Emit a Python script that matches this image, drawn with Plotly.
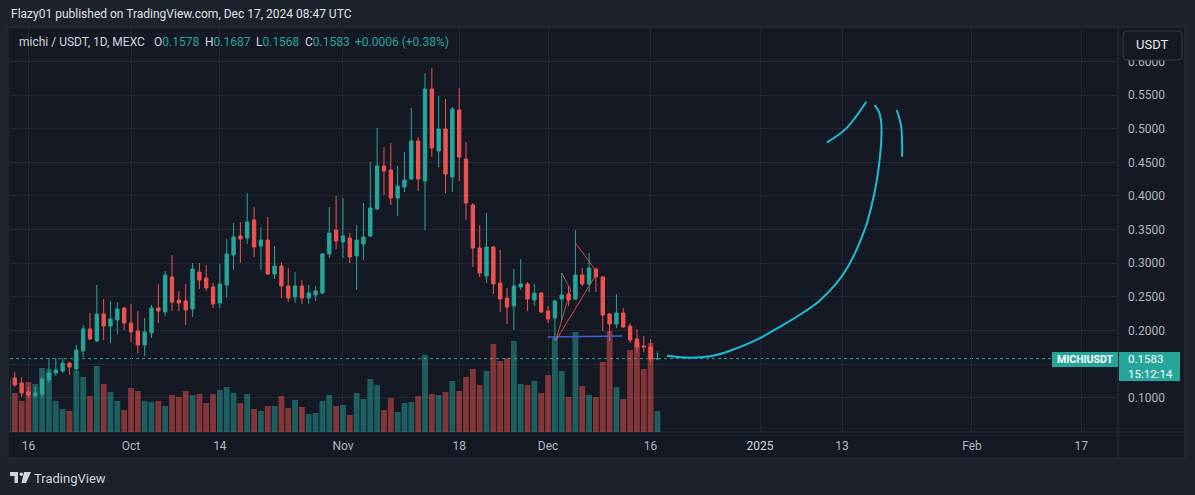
import plotly.graph_objects as go
import pandas as pd

# ---------------- data ----------------
start_date = "2024-09-13"
end_date = "2024-12-17"

open_ = [0.1072, 0.1295, 0.1221, 0.1087, 0.1028, 0.1057, 0.1265, 0.1369, 0.1399, 0.1518,
         0.1429, 0.1696, 0.2023, 0.1845, 0.2246, 0.2068, 0.2157, 0.2335, 0.2112, 0.1994,
         0.1786, 0.1964, 0.2335, 0.2276, 0.2796, 0.2454, 0.2439, 0.2320, 0.2870, 0.2781,
         0.2647, 0.2409, 0.2677, 0.3122, 0.3405, 0.3375, 0.3643, 0.3256, 0.3345, 0.2840,
         0.2959, 0.2662, 0.2499, 0.2662, 0.2484, 0.2528, 0.2558, 0.3138, 0.3494, 0.3316,
         0.3375, 0.3108, 0.3286, 0.3405, 0.3806, 0.4445, 0.4386, 0.3970, 0.4133, 0.4252,
         0.4817, 0.4222, 0.5589, 0.4668, 0.4995, 0.4282, 0.5277, 0.4549, 0.3866, 0.3227,
         0.2811, 0.3241, 0.2707, 0.2484, 0.2365, 0.2647, 0.2692, 0.2454, 0.2558, 0.2291,
         0.2186, 0.2469, 0.2543, 0.2469, 0.2825, 0.2692, 0.2915, 0.2796, 0.2246, 0.2097,
         0.2261, 0.2068, 0.1875, 0.1771, 0.1756, 0.1578]
high = [0.1340, 0.1384, 0.1310, 0.1162, 0.1162, 0.1310, 0.1592, 0.1592, 0.1592, 0.1533,
        0.1786, 0.2082, 0.2261, 0.2677, 0.2469, 0.2439, 0.2424, 0.2350, 0.2394, 0.2291,
        0.2186, 0.2380, 0.2692, 0.2885, 0.3122, 0.2588, 0.2692, 0.3004, 0.3004, 0.2974,
        0.2707, 0.2989, 0.3360, 0.3598, 0.3613, 0.4044, 0.3836, 0.3538, 0.3687, 0.3256,
        0.3018, 0.2929, 0.2870, 0.2751, 0.2677, 0.2662, 0.3152, 0.3836, 0.3999, 0.3970,
        0.3450, 0.3568, 0.3895, 0.4505, 0.5010, 0.4727, 0.4787, 0.4445, 0.4653, 0.5307,
        0.4876, 0.5827, 0.5901, 0.5485, 0.5441, 0.5322, 0.5604, 0.4801, 0.3895, 0.3568,
        0.3747, 0.3256, 0.3197, 0.2632, 0.2915, 0.3063, 0.2722, 0.2692, 0.2573, 0.2365,
        0.2454, 0.2855, 0.2662, 0.3494, 0.2929, 0.3152, 0.2929, 0.2811, 0.2261, 0.2543,
        0.2335, 0.2112, 0.2023, 0.1919, 0.1875, 0.1687]
low = [0.1042, 0.1162, 0.1013, 0.0998, 0.1013, 0.1013, 0.1221, 0.1325, 0.1369, 0.1340,
       0.1384, 0.1607, 0.1860, 0.1830, 0.1860, 0.1815, 0.1949, 0.2008, 0.1830, 0.1666,
       0.1622, 0.1889, 0.2112, 0.2216, 0.2291, 0.2291, 0.2082, 0.2201, 0.2617, 0.2588,
       0.2335, 0.2335, 0.2484, 0.2900, 0.3004, 0.3286, 0.3093, 0.2900, 0.2826, 0.2766,
       0.2484, 0.2424, 0.2409, 0.2394, 0.2394, 0.2439, 0.2543, 0.3078, 0.3212, 0.3078,
       0.3004, 0.2603, 0.3048, 0.3390, 0.3791, 0.4014, 0.3866, 0.3702, 0.4059, 0.4237,
       0.4074, 0.3494, 0.4579, 0.4430, 0.4044, 0.4059, 0.4222, 0.3642, 0.2945, 0.2796,
       0.2707, 0.2543, 0.2276, 0.2097, 0.2008, 0.2603, 0.2291, 0.2365, 0.2261, 0.2112,
       0.1860, 0.2157, 0.2365, 0.2454, 0.2662, 0.2573, 0.2573, 0.1994, 0.1845, 0.2038,
       0.2038, 0.1815, 0.1667, 0.1681, 0.1533, 0.1568]
close = [0.1295, 0.1192, 0.1072, 0.1043, 0.1072, 0.1280, 0.1369, 0.1414, 0.1518, 0.1459,
         0.1711, 0.2023, 0.1874, 0.2246, 0.2068, 0.2172, 0.2320, 0.2112, 0.1979, 0.1786,
         0.1979, 0.2335, 0.2291, 0.2825, 0.2424, 0.2409, 0.2305, 0.2915, 0.2751, 0.2632,
         0.2394, 0.2692, 0.3138, 0.3390, 0.3360, 0.3613, 0.3241, 0.3345, 0.2840, 0.2959,
         0.2662, 0.2484, 0.2662, 0.2484, 0.2558, 0.2588, 0.3138, 0.3450, 0.3331, 0.3405,
         0.3093, 0.3345, 0.3390, 0.3821, 0.4445, 0.4371, 0.3970, 0.4148, 0.4237, 0.4817,
         0.4252, 0.5589, 0.4713, 0.4995, 0.4326, 0.5292, 0.4579, 0.3895, 0.3227, 0.2855,
         0.3241, 0.2692, 0.2469, 0.2350, 0.2662, 0.2692, 0.2469, 0.2558, 0.2276, 0.2172,
         0.2439, 0.2528, 0.2454, 0.2825, 0.2692, 0.2929, 0.2796, 0.2231, 0.2097, 0.2261,
         0.2053, 0.1860, 0.1756, 0.1756, 0.1577, 0.1583]
volume_m = [5.3, 3.9, 3.1, 5.0, 4.8, 6.4, 6.3, 3.1, 2.3, 2.1,
            6.1, 5.5, 3.6, 6.6, 4.8, 4.0, 3.1, 2.2, 4.4, 4.1,
            3.1, 3.0, 3.1, 2.6, 3.7, 3.5, 4.1, 3.7, 3.8, 2.9,
            3.8, 4.2, 4.5, 3.9, 2.9, 3.8, 2.3, 2.1, 2.6, 2.6,
            3.6, 2.4, 3.2, 2.5, 1.8, 1.9, 3.1, 3.7, 2.6, 2.7,
            1.7, 3.9, 3.3, 5.3, 4.7, 2.2, 3.4, 2.0, 2.9, 3.0,
            3.6, 7.7, 3.8, 3.7, 4.0, 5.1, 4.1, 5.5, 6.3, 4.7,
            6.1, 8.8, 7.1, 7.4, 9.1, 4.8, 4.7, 5.1, 3.9, 5.7,
            9.5, 6.1, 3.5, 10.0, 4.6, 3.7, 3.5, 7.0, 10.1, 4.5,
            3.3, 8.2, 9.0, 6.3, 8.9, 2.1]

tick_dates = ["2024-09-16", "2024-10-01", "2024-10-14", "2024-11-01", "2024-11-18",
              "2024-12-01", "2024-12-16", "2025-01-01", "2025-01-13", "2025-02-01",
              "2025-02-17"]
tick_text = ["16", "Oct", "14", "Nov", "18", "Dec", "16",
             "<span style='color:#d1d4dc'>2025</span>", "13", "Feb", "17"]
price_ticks = [0.10, 0.15, 0.20, 0.25, 0.30, 0.35, 0.40, 0.45, 0.50, 0.55, 0.60]
# the 0.1500 label sits under the last-price box in the original, so it is left blank
price_tick_text = ["0.1000", "", "0.2000", "0.2500", "0.3000", "0.3500", "0.4000",
                   "0.4500", "0.5000", "0.5500", "0.6000"]

# hand-drawn annotations (day offset from drawing base, price)
draw_base = "2024-12-16"
curve_days = [2.38, 5.70, 9.61, 12.53, 15.94, 19.35, 22.28, 24.72, 27.16, 28.86,
              30.32, 31.55, 32.28, 33.01, 33.49, 33.74, 33.74, 33.39, 32.76]
curve_price = [0.1626, 0.1597, 0.1637, 0.1736, 0.1885, 0.2082, 0.2265, 0.2444, 0.2702, 0.2949,
               0.3246, 0.3568, 0.3840, 0.4188, 0.4534, 0.4831, 0.5079, 0.5252, 0.5351]
stroke2_days = [25.79, 28.62, 31.55]
stroke2_price = [0.4797, 0.5005, 0.5400]
stroke3_days = [36.00, 36.65, 36.79]
stroke3_price = [0.5277, 0.5029, 0.4583]
fan_segments = [  # (d0, p0, d1, p1)
    (-13.9, 0.1845, -11.7, 0.2603),
    (-13.9, 0.1845, -8.19, 0.2796),
    (-13.0, 0.2855, -11.7, 0.2603),
    (-10.97, 0.3301, -8.19, 0.2915),
]
support_days = [-15.07, -4.10]
support_price = [0.1904, 0.1919]

symbol_text = "michi / USDT, 1D, MEXC"
last_label = "MICHIUSDT"
countdown = "15:12:14"
publish_text = "Flazy01 published on TradingView.com, Dec 17, 2024 08:47 UTC"

# ---------------- styling ----------------
UP = "#26a69a"
DOWN = "#ef5350"
UP_VOL = "rgba(38,166,154,0.5)"
DOWN_VOL = "rgba(239,83,80,0.5)"
CHART_BG = "#151924"
FRAME_BG = "#1e222c"
GRID = "#232733"
SEP = "#2a2e39"
TEXT = "#d1d4dc"
AXIS_TEXT = "#b2b5be"
FONT = "Roboto"

W, H = 1195, 495
ML, MR, MT, MB = 10, 77, 28, 63
PW = W - ML - MR
PH = H - MT - MB


def px(x):
    return (x - ML) / PW


def py(y):
    return (H - MB - y) / PH


dates = pd.date_range(start_date, end_date, freq="D")
base = pd.Timestamp(draw_base)


def to_dates(days):
    return [base + pd.Timedelta(days=d) for d in days]


vol_colors = [UP_VOL if c >= o else DOWN_VOL for o, c in zip(open_, close)]

fig = go.Figure()
fig.add_trace(go.Bar(x=dates, y=volume_m, marker=dict(color=vol_colors, line=dict(width=0)),
                     yaxis="y", showlegend=False, hoverinfo="skip"))
fig.add_trace(go.Candlestick(
    x=dates, open=open_, high=high, low=low, close=close, yaxis="y2",
    increasing=dict(line=dict(color=UP, width=1), fillcolor=UP),
    decreasing=dict(line=dict(color=DOWN, width=1), fillcolor=DOWN),
    whiskerwidth=0, showlegend=False))

for dd, pp in [(curve_days, curve_price), (stroke2_days, stroke2_price), (stroke3_days, stroke3_price)]:
    fig.add_trace(go.Scatter(x=to_dates(dd), y=pp, yaxis="y2", mode="lines",
                             line=dict(color="#1fbcd6", width=2, shape="spline", smoothing=1.0),
                             showlegend=False, hoverinfo="skip"))

shapes = []
# panel background and separators
shapes.append(dict(type="rect", xref="paper", yref="paper", x0=px(8), x1=px(1185), y0=py(458), y1=py(27),
                   fillcolor=CHART_BG, line=dict(color=SEP, width=1), layer="below"))
shapes.append(dict(type="line", xref="paper", yref="paper", x0=px(1118), x1=px(1118), y0=py(458), y1=py(27),
                   line=dict(color=SEP, width=1), layer="below"))
shapes.append(dict(type="line", xref="paper", yref="paper", x0=px(8), x1=px(1185), y0=py(432), y1=py(432),
                   line=dict(color=SEP, width=1), layer="below"))
# last price dotted line
shapes.append(dict(type="line", xref="paper", yref="y2", x0=0, x1=1, y0=close[-1], y1=close[-1],
                   line=dict(color=UP, width=1, dash="dot"), layer="below"))
# support line
sd = to_dates(support_days)
shapes.append(dict(type="line", xref="x", yref="y2", x0=sd[0], x1=sd[1], y0=support_price[0], y1=support_price[1],
                   line=dict(color="#3d5fd6", width=1.5)))
# fan lines
for d0, p0, d1, p1 in fan_segments:
    a, b = to_dates([d0, d1])
    shapes.append(dict(type="line", xref="x", yref="y2", x0=a, x1=b, y0=p0, y1=p1,
                       line=dict(color="rgba(229,83,75,0.85)", width=1)))
# last price labels
shapes.append(dict(type="rect", xref="paper", yref="paper", x0=px(1052), x1=px(1118), y0=py(367), y1=py(352),
                   fillcolor=UP, line=dict(width=0), layer="above"))
shapes.append(dict(type="rect", xref="paper", yref="paper", x0=px(1119), x1=px(1180), y0=py(381), y1=py(352),
                   fillcolor=UP, line=dict(width=0), layer="above"))
# USDT button (rounded)
bx0, bx1, by0, by1, r = 1123, 1182, 31, 60, 4
rx, ry = r / PW, r / PH
X0, X1, Y0, Y1 = px(bx0), px(bx1), py(by1), py(by0)
path = (f"M {X0+rx},{Y0} L {X1-rx},{Y0} Q {X1},{Y0} {X1},{Y0+ry} L {X1},{Y1-ry} Q {X1},{Y1} {X1-rx},{Y1} "
        f"L {X0+rx},{Y1} Q {X0},{Y1} {X0},{Y1-ry} L {X0},{Y0+ry} Q {X0},{Y0} {X0+rx},{Y0} Z")
shapes.append(dict(type="path", xref="paper", yref="paper", path=path, fillcolor=CHART_BG,
                   line=dict(color="#363a45", width=1), layer="above"))
# TradingView logo
shapes.append(dict(type="rect", xref="paper", yref="paper", x0=px(10), x1=px(18), y0=py(476), y1=py(472),
                   fillcolor=TEXT, line=dict(width=0), layer="above"))
shapes.append(dict(type="rect", xref="paper", yref="paper", x0=px(14.5), x1=px(18), y0=py(483), y1=py(472),
                   fillcolor=TEXT, line=dict(width=0), layer="above"))
shapes.append(dict(type="circle", xref="paper", yref="paper", x0=px(19.5), x1=px(23), y0=py(476), y1=py(472.5),
                   fillcolor=TEXT, line=dict(width=0), layer="above"))
lp = (f"M {px(24)},{py(472)} L {px(31)},{py(472)} L {px(26)},{py(483)} L {px(21.5)},{py(483)} Z")
shapes.append(dict(type="path", xref="paper", yref="paper", path=lp, fillcolor=TEXT,
                   line=dict(width=0), layer="above"))

annotations = []


def ann(x, y, text, size=12, color=TEXT, xanchor="left", **kw):
    annotations.append(dict(xref="paper", yref="paper", x=px(x), y=py(y), text=text, showarrow=False,
                            xanchor=xanchor, yanchor="middle", borderpad=0,
                            font=dict(family=FONT, size=size, color=color), **kw))


ann(10, 14, publish_text, size=12, color="#dfe1e8")
ann(18, 42, symbol_text, size=12, color=TEXT)
o, h, l, c = open_[-1], high[-1], low[-1], close[-1]
chg = c - close[-2]
pct = chg / close[-2] * 100
val = "#26a69a"
items = [(153, "O", o), (204, "H", h), (255, "L", l), (304, "C", c)]
for x, k, v in items:
    ann(x, 42, f"{k}<span style='color:{val}'>{v:.4f}</span>", size=12, color=TEXT)
ann(354, 42, f"{chg:+.4f} ({pct:+.2f}%)", size=12, color=val)
ann(1085, 359.5, f"<b>{last_label}</b>", size=10.5, color="#ffffff", xanchor="center")
ann(1127, 358.5, f"{c:.4f}", size=11.5, color="#ffffff")
ann(1127, 374, countdown, size=11.5, color="#ffffff")
ann(1152.5, 44, "USDT", size=13, color="#e8eaf0", xanchor="center")
ann(33, 478, "TradingView", size=13, color=TEXT)

fig.update_layout(
    width=W, height=H,
    margin=dict(l=ML, r=MR, t=MT, b=MB),
    paper_bgcolor=FRAME_BG, plot_bgcolor=CHART_BG,
    showlegend=False, bargap=0.15, boxgap=0.3,
    font=dict(family=FONT, size=12, color=AXIS_TEXT),
    shapes=shapes, annotations=annotations,
    xaxis=dict(type="date", range=["2024-09-13 07:15", "2025-02-22 08:40"],
               tickvals=tick_dates, ticktext=tick_text, showgrid=True, gridcolor=GRID, gridwidth=1,
               zeroline=False, showline=False, ticks="", ticklabelstandoff=5,
               tickfont=dict(family=FONT, size=12, color=AXIS_TEXT),
               rangeslider=dict(visible=False), fixedrange=True),
    yaxis=dict(range=[0, 40.4], visible=False, showgrid=False, fixedrange=True),
    yaxis2=dict(overlaying="y", side="right", range=[0.04926, 0.6496], tickvals=price_ticks,
                ticktext=price_tick_text, showgrid=True, gridcolor=GRID, zeroline=False, showline=False,
                ticks="", ticklabelstandoff=9, tickfont=dict(family=FONT, size=12, color=AXIS_TEXT),
                fixedrange=True),
)

fig.write_html("out.html")
